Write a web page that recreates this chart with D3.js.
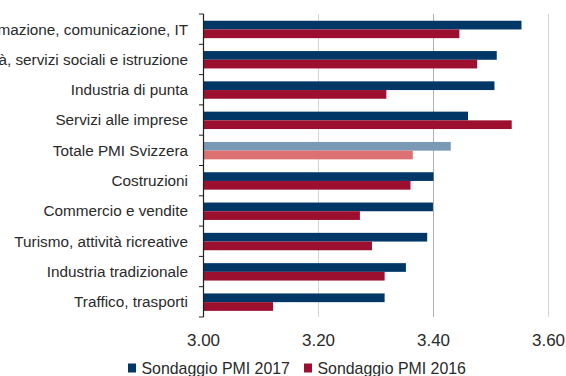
<!DOCTYPE html>
<html>
<head>
<meta charset="utf-8">
<script src="https://cdn.jsdelivr.net/npm/d3@7"></script>
<style>
  html, body { margin: 0; padding: 0; background: #fff; overflow: hidden; }
  svg { display: block; }
  text { font-family: "Liberation Sans", Arial, sans-serif; }
</style>
</head>
<body>
<svg id="chart" width="566" height="376"></svg>
<script>
// Settori (from top to bottom)
const categories = [
  "Informazione, comunicazione, IT",
  "Sanità, servizi sociali e istruzione",
  "Industria di punta",
  "Servizi alle imprese",
  "Totale PMI Svizzera",
  "Costruzioni",
  "Commercio e vendite",
  "Turismo, attività ricreative",
  "Industria tradizionale",
  "Traffico, trasporti"
];
const values2017 = [3.553, 3.510, 3.506, 3.460, 3.430, 3.400, 3.399, 3.389, 3.352, 3.315];
const values2016 = [3.445, 3.476, 3.318, 3.536, 3.364, 3.360, 3.272, 3.293, 3.315, 3.121];
const seriesNames = ["Sondaggio PMI 2017", "Sondaggio PMI 2016"];
const xTicks = [3.00, 3.20, 3.40, 3.60];
const totalLabel = "Totale PMI Svizzera";

const colors = { s2017: "#013767", s2016: "#9c0f2e", t2017: "#7a99b4", t2016: "#db7170" };

const svg = d3.select("#chart");
const plotL = 203.5, plotR = 548.5, plotT = 14, plotB = 317;

const x = d3.scaleLinear().domain([3.0, 3.6]).range([plotL, plotR]);
const y = d3.scaleBand().domain(categories).range([plotT, plotB]);
const barH = 8.7;

// vertical gridlines
svg.append("g").selectAll("line").data(xTicks.slice(1)).join("line")
  .attr("x1", d => x(d)).attr("x2", d => x(d))
  .attr("y1", plotT).attr("y2", plotB)
  .attr("stroke", d => d === 3.4 ? "#b0b0b0" : "#d6d6d6")
  .attr("stroke-width", 1);

// bars
const rows = categories.map((c, i) => ({ c, v17: values2017[i], v16: values2016[i] }));
const g = svg.append("g");
g.selectAll("rect.b17").data(rows).join("rect").attr("class", "b17")
  .attr("x", x(3.0))
  .attr("y", d => y(d.c) + y.bandwidth() / 2 - barH + 0.3)
  .attr("width", d => x(d.v17) - x(3.0))
  .attr("height", barH)
  .attr("fill", d => d.c === totalLabel ? colors.t2017 : colors.s2017);
g.selectAll("rect.b16").data(rows).join("rect").attr("class", "b16")
  .attr("x", x(3.0))
  .attr("y", d => y(d.c) + y.bandwidth() / 2 + 0.3)
  .attr("width", d => x(d.v16) - x(3.0))
  .attr("height", barH)
  .attr("fill", d => d.c === totalLabel ? colors.t2016 : colors.s2016);

// category axis line and ticks
const ax = svg.append("g");
ax.append("line").attr("x1", plotL).attr("x2", plotL).attr("y1", plotT).attr("y2", plotB)
  .attr("stroke", "#222").attr("stroke-width", 1.2);
const boundaries = categories.map(c => y(c)).concat([plotB]);
ax.selectAll("line.tk").data(boundaries).join("line").attr("class", "tk")
  .attr("x1", plotL - 4.5).attr("x2", plotL).attr("y1", d => d).attr("y2", d => d)
  .attr("stroke", "#222").attr("stroke-width", 1);

// category labels
svg.append("g").selectAll("text").data(categories).join("text")
  .attr("x", 188).attr("y", d => y(d) + y.bandwidth() / 2)
  .attr("dy", "0.35em").attr("text-anchor", "end")
  .attr("font-size", 15.3).attr("fill", "#2a2a2a")
  .text(d => d);

// value axis labels
svg.append("g").selectAll("text").data(xTicks).join("text")
  .attr("x", d => x(d)).attr("y", 345.5)
  .attr("text-anchor", "middle").attr("font-size", 17).attr("fill", "#2a2a2a")
  .text(d => d.toFixed(2));

// legend
const legend = svg.append("g");
const legX = [128, 304];
seriesNames.forEach((name, i) => {
  legend.append("rect").attr("x", legX[i]).attr("y", 363.5).attr("width", 8).attr("height", 9)
    .attr("fill", i === 0 ? colors.s2017 : colors.s2016);
  legend.append("text").attr("x", legX[i] + 13.5).attr("y", 374)
    .attr("font-size", 15.9).attr("fill", "#2a2a2a").text(name);
});
</script>
</body>
</html>
